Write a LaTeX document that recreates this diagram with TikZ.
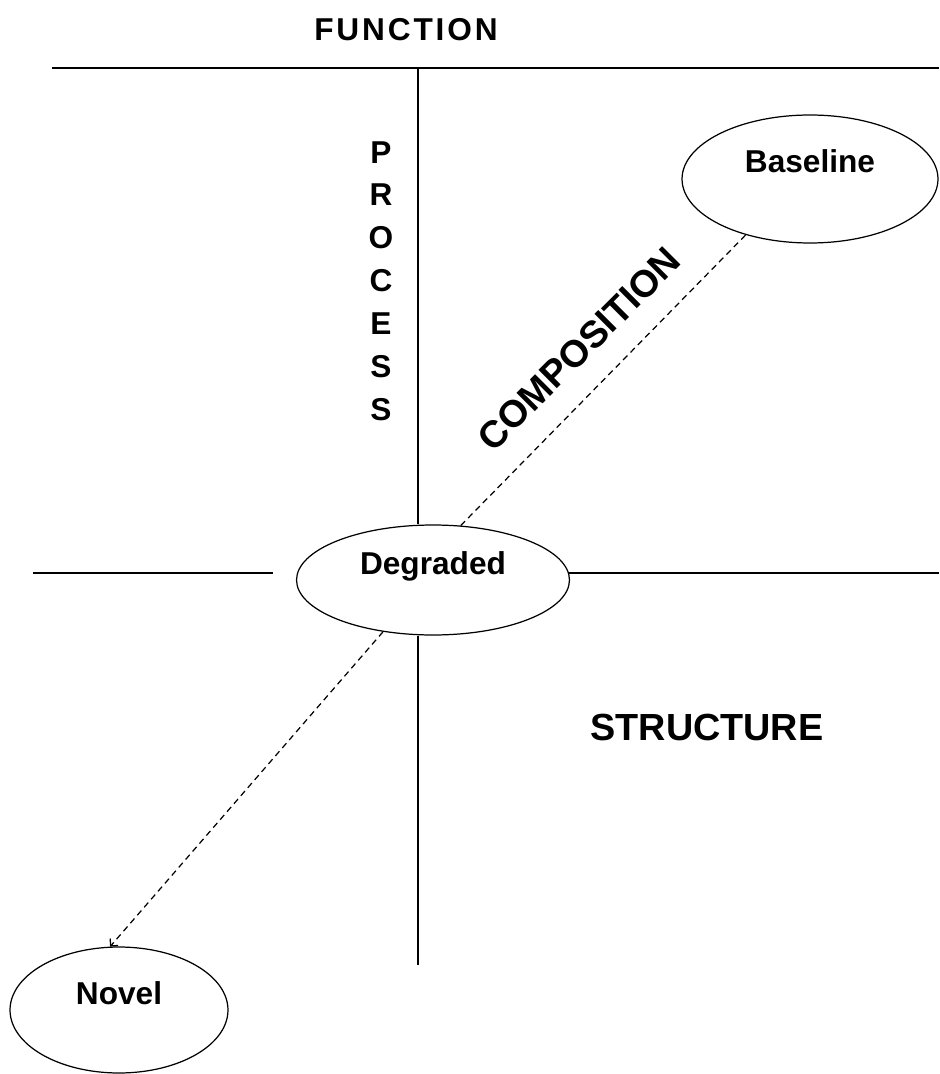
\documentclass[tikz,border=0pt]{standalone}
\usepackage{fontspec}
\setmainfont{Liberation Sans}
\usetikzlibrary{shapes.geometric,arrows.meta}

\begin{document}
\begin{tikzpicture}[x=0.02cm,y=-0.02cm,
  axis/.style={line width=0.8pt},
  link/.style={line width=0.7pt,dash pattern=on 3.5pt off 2.5pt},
  state/.style={draw,ellipse,line width=0.7pt,inner sep=0pt,
    text height=0.5cm,text depth=0.74cm,
    font=\fontsize{18}{22}\selectfont\bfseries},
  word/.style={font=\fontsize{18}{22}\selectfont\bfseries},
  bigword/.style={font=\fontsize{21.5}{26}\selectfont\bfseries}]
\useasboundingbox (0,0) rectangle (939,1074);

% Ellipses
\node[state,minimum width=5.12cm,minimum height=2.56cm] (base) at (810,179) {Baseline};
\node[state,minimum width=5.46cm,minimum height=2.2cm] (degr) at (433,580) {Degraded};
\node[state,minimum width=4.36cm,minimum height=2.52cm] (novel) at (119,1010) {Novel};

% Axes
\coordinate (topL) at (52,68);
\coordinate (topR) at (939,68);
\coordinate (topM) at (418,68);
\coordinate (botM) at (418,965);
\coordinate (midL) at (33,573);
\coordinate (midLe) at (273,573);
\coordinate (midRe) at (569,573);
\coordinate (midR) at (939,573);
\draw[axis] (topL) -- (topR);
\draw[axis] (topM) -- (topM |- degr.north);
\draw[axis] (botM |- degr.south) -- (botM);
\draw[axis] (midL) -- (midLe);
\draw[axis] (midRe) -- (midR);

% Dashed links
\draw[link] (degr.63) -- (base.221);
\draw[link,-{Straight Barb[length=3pt,width=6pt]}] (degr.226) -- (novel.98);

% Labels
\node[word] (func) at (406,30) {\addfontfeatures{LetterSpace=9}FUNCTION};
\node[word,align=center,inner sep=0pt] (proc) at (381,281)
  {P\\[2.4pt]R\\[2.4pt]O\\[2.4pt]C\\[2.4pt]E\\[2.4pt]S\\[2.4pt]S};
\node[bigword,rotate=45] (comp) at (579,349) {COMPOSITION};
\node[bigword] (struct) at (707,727) {STRUCTURE};
\end{tikzpicture}
\end{document}
